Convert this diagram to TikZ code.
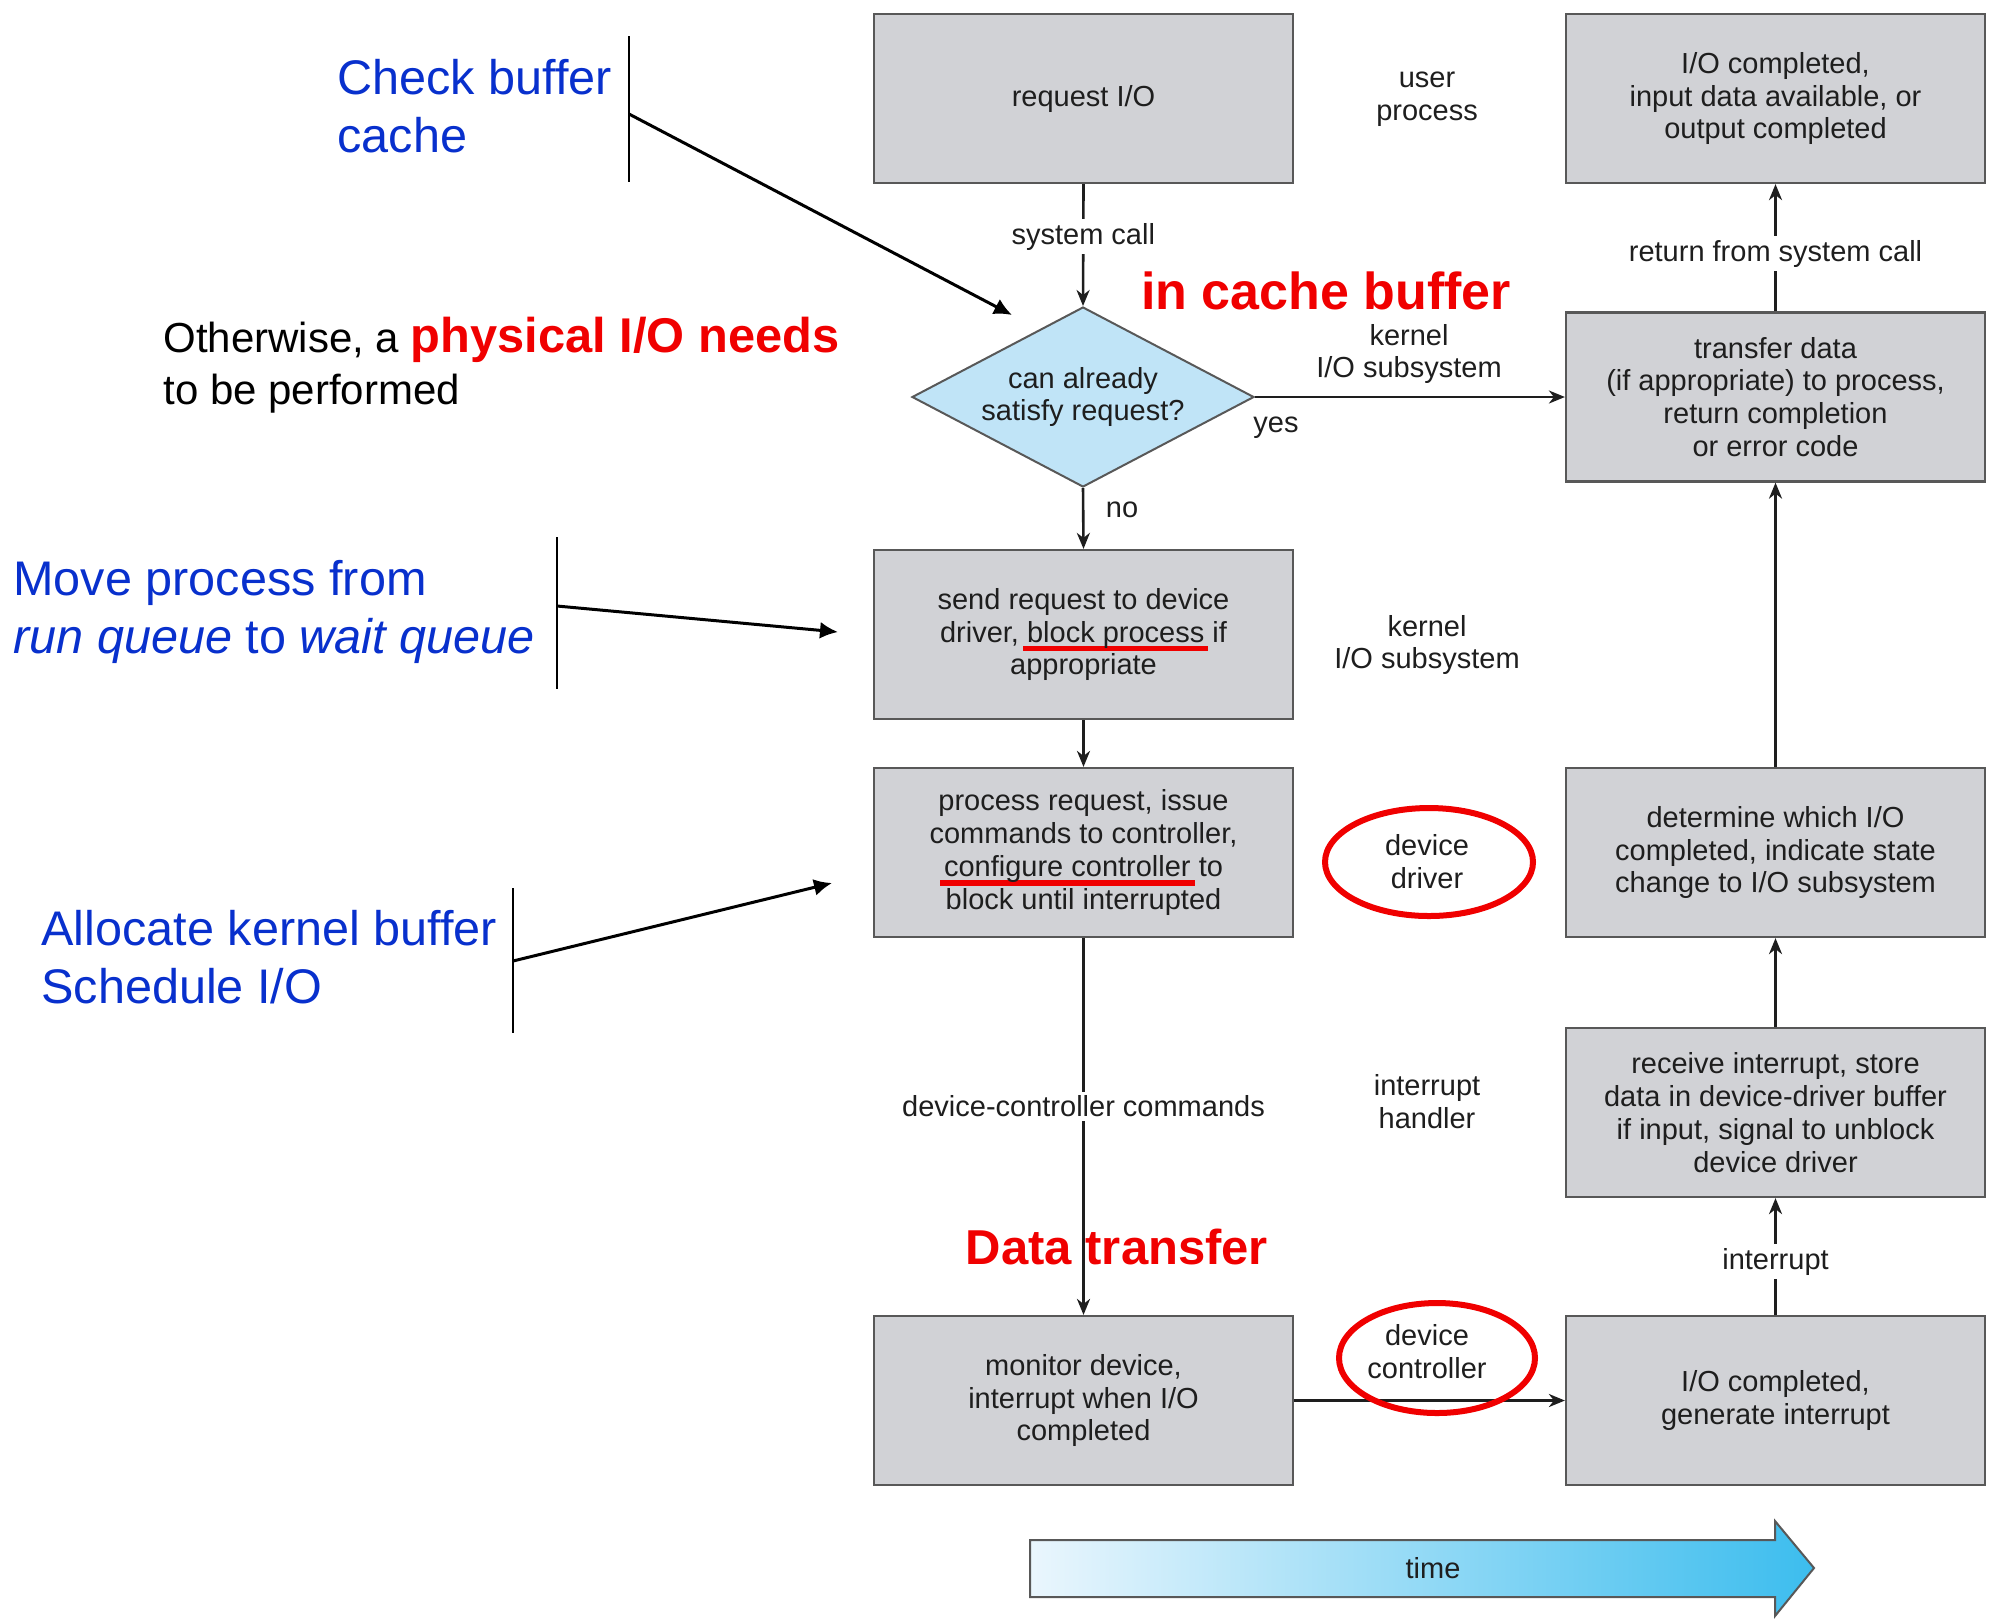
\documentclass[tikz,border=0pt]{standalone}
\usepackage{fontspec}
\setmainfont{Liberation Sans}
\usetikzlibrary{shapes.geometric,arrows.meta}
\definecolor{boxfill}{RGB}{209,210,214}
\definecolor{boxline}{RGB}{88,88,88}
\definecolor{diafill}{RGB}{192,228,247}
\definecolor{inktext}{RGB}{30,30,30}
\definecolor{noteblue}{RGB}{8,48,205}
\definecolor{notered}{RGB}{240,0,0}
\definecolor{timeL}{RGB}{234,246,253}
\definecolor{timeM}{RGB}{188,228,248}
\definecolor{timeR}{RGB}{60,189,238}
\newcommand\boxfont{\fontsize{14.5}{16.4}\selectfont}
\newsavebox\ulbox
\newcommand\redul[1]{\leavevmode\sbox\ulbox{#1}\rlap{\kern-2pt\textcolor{notered}{\rule[-4.6pt]{\dimexpr\wd\ulbox+4pt\relax}{2.6pt}}}\usebox\ulbox}
\begin{document}
\begin{tikzpicture}[x=0.5pt,y=-0.5pt,
  box/.style={draw=boxline, line width=1.1pt, fill=boxfill, minimum width=209.5pt,
    minimum height=84.5pt, inner sep=0pt, align=center, text=inktext, font=\boxfont},
  decision/.style={diamond, draw=boxline, line width=1pt, fill=diafill, aspect=1.9,
    minimum width=171pt, minimum height=90pt, inner sep=0pt, align=center,
    text=inktext, font=\boxfont},
  conn/.style={draw=inktext, line width=1.3pt, -{Stealth[length=8pt,width=6.5pt,inset=2.5pt]}},
  thickconn/.style={conn, line width=1.9pt},
  lbl/.style={fill=white, inner sep=2pt, font=\boxfont, text=inktext},
  tag/.style={font=\boxfont, text=inktext, align=center, inner sep=0pt},
  note/.style={text=noteblue, align=left, inner sep=0pt, anchor=north west,
    font=\fontsize{24.3}{29}\selectfont},
  bracket/.style={draw=black, line width=1.1pt},
  pointer/.style={draw=black, line width=1.5pt, -{Latex[length=9pt,width=8.5pt]}},
  redring/.style={draw=notered, line width=3pt},
  bigred/.style={text=notered, inner sep=0pt, font=\bfseries\fontsize{26}{30}\selectfont}
]
\useasboundingbox (0,0) rectangle (2000,1619);

% boxes
\node[box] (req)  at (1083.5,98.5)  {request I/O};
\node[box] (done) at (1775.5,98.5)  {I/O completed,\\input data available, or\\output completed};
\node[box] (xfer) at (1775.5,397)   {transfer data\\(if appropriate) to process,\\return completion\\or error code};
\node[decision] (dia) at (1083,397) {can already\\satisfy request?};
\node[box] (send) at (1083.5,634.5) {send request to device\\driver, \redul{block process} if\\appropriate};
\node[box] (proc) at (1083.5,852.5) {process request, issue\\commands to controller,\\\redul{configure controller} to\\block until interrupted};
\node[box] (det)  at (1775.5,852.5) {determine which I/O\\completed, indicate state\\change to I/O subsystem};
\node[box] (recv) at (1775.5,1112.5) {receive interrupt, store\\data in device-driver buffer\\if input, signal to unblock\\device driver};
\node[box] (mon)  at (1083.5,1400.5) {monitor device,\\interrupt when I/O\\completed};
\node[box] (gen)  at (1775.5,1400.5) {I/O completed,\\generate interrupt};

% connectors
\draw[conn] (req.south) -- node[lbl, pos=0.43] (lsys) {system call} (dia.north);
\draw[conn] (dia.east) -- (xfer.west);
\draw[conn] (dia.south) -- (send.north);
\draw[conn] (send.south) -- (proc.north);
\draw[conn] (proc.south) -- node[lbl, pos=0.446] (ldcc) {device-controller commands} (mon.north);
\draw[thickconn] (mon.east) -- (gen.west);
\draw[conn] (gen.north) -- node[lbl, pos=0.454] (lint) {interrupt} (recv.south);
\draw[conn] (recv.north) -- (det.south);
\draw[conn] (det.north) -- (xfer.south);
\draw[conn] (xfer.north) -- node[lbl, pos=0.454] (lret) {return from system call} (done.south);

% free labels
\node[tag] (yes) at (1276,428) {yes};
\node[tag] (no)  at (1122,510) {no};
\node[tag] (kio1) at (1409,354) {kernel\\I/O subsystem};
\node[tag] (user) at (1427,99) {user\\process};
\node[tag] (kio2) at (1427,645) {kernel\\I/O subsystem};
\node[tag] (ddrv) at (1427,862) {device\\driver};
\node[tag] (ihnd) at (1427,1102) {interrupt\\handler};
\node[tag] (dctl) at (1427,1352) {device\\controller};

% red rings
\draw[redring] (1429,862) ellipse [x radius=52pt, y radius=27pt];
\draw[redring] (1437,1358) ellipse [x radius=49pt, y radius=27.5pt];

% red headings
\node[bigred] (cachebuf) at (1326,291) {in cache buffer};
\node[bigred, font=\bfseries\fontsize{24.5}{28}\selectfont] (dtrans) at (1117,1247) {Data transfer};

% notes with brackets
\node[note] (ncheck) at (337,59) {Check buffer\\cache};
\coordinate (cTop) at (629,36);
\coordinate (cBot) at (629,182);
\coordinate (cFrom) at (629,114);
\coordinate (cTo) at (1012,315);
\draw[bracket] (cTop) -- (cBot);
\draw[pointer] (cFrom) -- (cTo);

\node[note, text=black, font=\fontsize{21}{26}\selectfont] (nother) at (163,317)
  {Otherwise, a \textcolor{notered}{\bfseries\fontsize{24.4}{26}\selectfont physical I/O needs}\\to be performed};

\node[note] (nmove) at (13,560) {Move process from\\\textit{run queue} to \textit{wait queue}};
\coordinate (mTop) at (557,537);
\coordinate (mBot) at (557,689);
\coordinate (mFrom) at (557,606);
\coordinate (mTo) at (838,632);
\draw[bracket] (mTop) -- (mBot);
\draw[pointer] (mFrom) -- (mTo);

\node[note] (nalloc) at (41,910) {Allocate kernel buffer\\Schedule I/O};
\coordinate (aTop) at (513,888);
\coordinate (aBot) at (513,1033);
\coordinate (aFrom) at (513,961);
\coordinate (aTo) at (832,883);
\draw[bracket] (aTop) -- (aBot);
\draw[pointer] (aFrom) -- (aTo);

% time arrow
\draw[draw=boxline, line width=1pt, left color=timeL, middle color=timeM, right color=timeR]
  (1030,1540) -- (1775,1540) -- (1775,1521) -- (1814,1568) -- (1775,1616) -- (1775,1597) -- (1030,1597) -- cycle;
\node[tag] (time) at (1433,1568) {time};
\end{tikzpicture}
\end{document}
